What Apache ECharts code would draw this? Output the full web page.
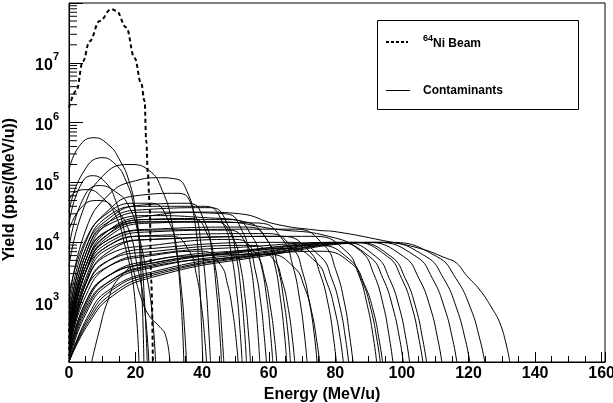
<!DOCTYPE html>
<html>
<head>
<meta charset="utf-8">
<script src="https://cdn.jsdelivr.net/npm/echarts@6/dist/echarts.min.js"></script>
<style>
  html, body { margin: 0; padding: 0; background: #fff; }
  #chart { width: 613px; height: 403px; }
</style>
</head>
<body>
<div id="chart"></div>
<script>
// 64Ni beam, [energy (MeV/u), yield]
const beam = [
  [0, 1.8e6], [2.2, 3.4e6], [4.2, 1.07e7], [6.2, 2.3e7], [9.2, 5e7], [12.7, 7.9e7],
  [14.2, 7.4e7], [17.2, 3.9e7], [19.7, 1.2e7], [21.7, 4.5e6], [22.7, 2.3e6],
  [23.2, 5e5], [23.7, 1.4e5], [24.2, 4.5e4], [24.7, 2.3e3], [25.2, 100]
];

// contaminant spectra, one list of [energy, yield] per fragment
const contaminants = [
  [[0, 1.6e5], [3, 4e5], [7.5, 5.6e5], [12, 4.2e5], [15, 2.5e5], [18, 1.07e5], [20, 3.2e4], [21.5, 4e3], [22.5, 100]],
  [[0, 3.2e4], [4, 1.4e5], [10, 2.6e5], [14, 2e5], [17, 1.1e5], [19.5, 4e4], [21.5, 7.9e3], [22.7, 1e3], [23.5, 100]],
  [[0, 4e3], [4, 3.2e4], [10, 1.26e5], [18, 2e5], [24, 1.6e5], [28, 7.4e4], [31, 2e4], [33, 3.2e3], [34.5, 100]],
  [[0, 2e4], [3, 7.9e4], [7, 1.3e5], [11, 1e5], [14, 5e4], [17, 1.26e4], [19.5, 3.2e3], [21.5, 1.26e3], [24, 600], [27, 400], [29, 280], [30.3, 100]],
  [[0, 5e4], [2, 7e4], [5.5, 7.6e4], [10, 5.6e4], [14, 2.8e4], [17, 7.9e3], [19.5, 1.6e3], [21, 100]],
  [[0, 1e3], [5, 1.6e4], [12, 6.3e4], [20, 1.07e5], [27, 1.2e5], [32, 1.15e5], [35.5, 7e4], [37.8, 2.2e4], [39.1, 3e3], [39.8, 400], [40.2, 100]],
  [[0, 7.9e3], [4, 5e4], [9, 8.9e4], [14, 7e4], [18, 4e4], [21, 1.26e4], [23.5, 2.5e3], [25, 630], [26, 100]],
  [[0, 1.6e4], [4, 4e4], [9, 5e4], [14, 3.5e4], [18, 1.6e4], [20.5, 4e3], [22.5, 1e3], [24, 100]],
  [[0, 1.26e3], [5, 1.1e4], [12, 3.2e4], [20, 4.5e4], [25, 4.5e4], [30.2, 2.1e4], [32.2, 7.2e3], [33.8, 1.55e3], [34.8, 300], [35.3, 100]],
  [[0, 800], [5, 1e4], [12, 3.5e4], [20, 6e4], [33, 6.6e4], [37.75, 3e4], [39.65, 9.3e3], [41.1, 1.9e3], [42, 320], [42.5, 100]],
  [[0, 250], [5, 3.2e3], [12, 8.9e3], [22, 1.26e4], [31, 1.26e4], [36.15, 7.1e3], [38.2, 3e3], [39.75, 890], [40.8, 240], [41.3, 100]],
  [[0, 500], [5, 7.9e3], [12, 2.5e4], [22, 4.2e4], [36, 4.5e4], [40.9, 2.1e4], [42.9, 7.2e3], [44.3, 1.55e3], [45.3, 300], [45.8, 100]],
  [[0, 320], [5, 4e3], [12, 1.4e4], [22, 2.4e4], [37, 2.5e4], [41.75, 1.3e4], [43.65, 4.8e3], [45.1, 1.2e3], [46, 270], [46.5, 100]],
  [[0, 160], [5, 1.6e3], [12, 4e3], [25, 6e3], [40, 7.1e3], [45.4, 4.3e3], [47.6, 2e3], [49.2, 680], [50.3, 210], [50.8, 100]],
  [[0, 630], [5, 7.9e3], [12, 2.8e4], [22, 4e4], [41, 4e4], [46.5, 1.95e4], [48.7, 6.6e3], [50.35, 1.5e3], [51.45, 300], [52, 100]],
  [[0, 320], [5, 5e3], [12, 2.2e4], [22, 3.5e4], [42.5, 3.8e4], [47.9, 1.86e4], [50.1, 6.5e3], [51.7, 1.45e3], [52.8, 290], [53.3, 100]],
  [[0, 200], [5, 3.2e3], [12, 1.26e4], [25, 2.1e4], [44, 2.2e4], [49.25, 1.17e4], [51.35, 4.5e3], [52.9, 1.15e3], [54, 260], [54.5, 100]],
  [[0, 400], [5, 6.3e3], [12, 2.2e4], [25, 3.2e4], [47, 3e4], [52.15, 1.5e4], [54.2, 5.4e3], [55.75, 1.3e3], [56.8, 280], [57.3, 100]],
  [[0, 250], [5, 3.2e3], [12, 1e4], [25, 1.5e4], [48, 1.6e4], [53.65, 8.7e3], [55.9, 3.5e3], [57.6, 980], [58.7, 250], [59.3, 100]],
  [[0, 320], [5, 5e3], [12, 1.6e4], [25, 2.4e4], [49, 2.4e4], [55.1, 1.23e4], [57.5, 4.7e3], [59.4, 1.17e3], [60.6, 270], [61.2, 100]],
  [[0, 160], [5, 2e3], [12, 6.3e3], [25, 8.9e3], [50, 1.12e4], [56.2, 6.3e3], [58.7, 2.7e3], [60.5, 830], [61.8, 230], [62.4, 100]],
  [[0, 400], [5, 6.3e3], [12, 2e4], [25, 2.8e4], [40, 2.6e4], [53, 2.2e4], [59.2, 1.17e4], [61.7, 4.5e3], [63.5, 1.15e3], [64.8, 260], [65.4, 100]],
  [[0, 200], [5, 3.2e3], [12, 1.12e4], [25, 1.66e4], [54, 1.8e4], [60.25, 9.5e3], [62.75, 3.8e3], [64.6, 1e3], [65.9, 260], [66.5, 100]],
  [[0, 126], [5, 1.6e3], [12, 5e3], [25, 7e3], [55, 8.9e3], [61.4, 5.2e3], [64, 2.3e3], [65.9, 760], [67.2, 220], [67.8, 100]],
  [[0, 320], [5, 5e3], [12, 1.6e4], [25, 2.2e4], [57, 2.1e4], [64.25, 1.1e4], [67.15, 4.2e3], [69.3, 1.1e3], [70.8, 260], [71.5, 100]],
  [[0, 200], [5, 2.5e3], [12, 8.9e3], [25, 1.3e4], [60, 1.4e4], [67.25, 7.8e3], [70.15, 3.2e3], [72.3, 930], [73.8, 250], [74.5, 100]],
  [[6.8, 100], [9, 320], [11.5, 1e3], [15, 2.5e3], [22, 4.5e3], [40, 6e3], [60, 6.3e3], [67.65, 3.8e3], [70.7, 1.8e3], [73, 650], [74.5, 210], [75.3, 100]],
  [[0, 160], [5, 2e3], [12, 7e3], [25, 1.12e4], [64, 1.26e4], [72.15, 7.1e3], [75.4, 3e3], [77.9, 890], [79.5, 240], [80.3, 100]],
  [[0, 126], [5, 1e3], [12, 2.8e3], [25, 4.5e3], [45, 6.3e3], [66, 7.9e3], [74.2, 4.7e3], [77.5, 2.1e3], [79.9, 720], [81.6, 220], [82.4, 100]],
  [[0, 160], [5, 1.6e3], [12, 5e3], [25, 7.9e3], [67, 1e4], [75.5, 5.8e3], [78.9, 2.5e3], [81.45, 800], [83.15, 230], [84, 100]],
  [[0, 250], [5, 3.2e3], [12, 1.12e4], [25, 1.6e4], [68, 1.66e4], [76.65, 8.9e3], [80.1, 3.5e3], [82.7, 1e3], [84.4, 250], [85.3, 100]],
  [[0, 200], [5, 2.2e3], [12, 7.9e3], [25, 1.12e4], [74, 1.26e4], [83.2, 7.1e3], [86.9, 3e3], [89.6, 890], [91.5, 240], [92.4, 100]],
  [[0, 126], [5, 1e3], [12, 2.8e3], [25, 4.5e3], [50, 7e3], [75, 8.9e3], [84.25, 5.2e3], [88, 2.3e3], [90.7, 760], [92.6, 220], [93.5, 100]],
  [[0, 112], [5, 800], [12, 2.2e3], [25, 4e3], [50, 5.6e3], [76, 7.1e3], [85.1, 4.3e3], [88.7, 2e3], [91.5, 680], [93.3, 210], [94.2, 100]],
  [[0, 320], [5, 4e3], [12, 1.4e4], [25, 2.2e4], [45, 2.2e4], [62, 1.66e4], [78, 1.26e4], [87.65, 7.1e3], [91.5, 3e3], [94.4, 890], [96.3, 240], [97.3, 100]],
  [[0, 160], [5, 1.26e3], [12, 4e3], [25, 6.3e3], [55, 8.5e3], [80, 1e4], [90.2, 5.8e3], [94.3, 2.5e3], [97.3, 800], [99.4, 230], [100.4, 100]],
  [[0, 126], [5, 890], [12, 2.8e3], [25, 5e3], [55, 7.6e3], [82, 1e4], [92.15, 5.8e3], [96.2, 2.5e3], [99.25, 800], [101.3, 230], [102.3, 100]],
  [[0, 112], [5, 710], [12, 2.2e3], [25, 4.2e3], [55, 7.1e3], [85, 1e4], [95.65, 5.8e3], [99.9, 2.5e3], [103.1, 800], [105.2, 230], [106.3, 100]],
  [[0, 100], [5, 630], [12, 2e3], [25, 3.8e3], [55, 6.6e3], [86, 1e4], [96.7, 5.8e3], [101, 2.5e3], [104.2, 800], [106.3, 230], [107.4, 100]],
  [[0, 100], [6, 630], [12, 1.6e3], [25, 3.2e3], [55, 6.3e3], [89, 1e4], [100.5, 5.8e3], [105.1, 2.5e3], [108.55, 800], [110.85, 230], [112, 100]],
  [[0, 100], [6, 560], [13, 1.6e3], [25, 3e3], [55, 6e3], [92, 1e4], [104.25, 5.8e3], [109.15, 2.5e3], [112.8, 800], [115.3, 230], [116.5, 100]],
  [[0, 100], [6, 500], [13, 1.4e3], [25, 2.8e3], [55, 5.8e3], [94, 1e4], [107.2, 5.8e3], [112.5, 2.5e3], [116.4, 800], [119.1, 230], [120.4, 100]],
  [[0, 100], [6, 450], [13, 1.26e3], [25, 2.6e3], [55, 5.5e3], [96, 1e4], [110.45, 5.8e3], [116.2, 2.5e3], [120.6, 800], [123.5, 230], [124.9, 100]],
  [[0, 320], [5, 4e3], [12, 1.6e4], [25, 2.8e4], [40, 3.2e4], [51.3, 3e4], [62.3, 2e4], [74.3, 1.6e4], [80.3, 1.5e4], [94.4, 1.07e4], [105.4, 7.9e3], [113.4, 5.4e3], [116.4, 4.5e3], [119.4, 2.8e3], [123.4, 1.6e3], [127, 800], [129.4, 450], [131.3, 200], [132.4, 100]]
];

const yDecades = [3, 4, 5, 6, 7];
const xLabels = [0, 20, 40, 60, 80, 100, 120, 140, 160];

const font = "'Liberation Sans', Arial, sans-serif";

// log minor ticks 2..9 per decade on the y axis
const minorTicks = [];
for (let n = 2; n <= 7; n++) {
  for (let k = 2; k <= 9; k++) minorTicks.push([0, k * Math.pow(10, n)]);
}

const series = contaminants.map((pts) => ({
  type: "line",
  data: pts,
  symbol: "none",
  smooth: 0.5,
  silent: true,
  lineStyle: { color: "#000", width: 1 },
  z: 2,
}));

series.push({
  type: "line",
  data: beam,
  symbol: "none",
  smooth: 0.4,
  smoothMonotone: "x",
  silent: true,
  lineStyle: { color: "#000", width: 2, type: [4, 3] },
  z: 3,
});

series.push({
  type: "custom",
  data: minorTicks,
  silent: true,
  z: 4,
  renderItem: (params, api) => {
    const p = api.coord([0, api.value(1)]);
    return {
      type: "line",
      shape: { x1: p[0], y1: p[1], x2: p[0] + 8, y2: p[1] },
      style: { stroke: "#000", lineWidth: 1 },
    };
  },
});

const option = {
  animation: false,
  backgroundColor: "#fff",
  grid: {
    left: 69, right: 8, top: 3, bottom: 41,
    show: true, borderColor: "#000", borderWidth: 1,
    outerBoundsMode: "none",
  },
  xAxis: {
    type: "value",
    min: 0, max: 161, interval: 20,
    name: "Energy (MeV/u)",
    nameLocation: "middle",
    nameGap: 25,
    nameTextStyle: { fontFamily: font, fontWeight: "bold", fontSize: 16, color: "#000", padding: [0, 30, 0, 0] },
    axisLine: { lineStyle: { color: "#000", width: 1 } },
    axisTick: { inside: true, length: 10, lineStyle: { color: "#000" } },
    minorTick: { show: true, splitNumber: 4, length: 6, lineStyle: { color: "#000" } },
    splitLine: { show: false },
    axisLabel: {
      fontFamily: font, fontWeight: "bold", fontSize: 16, color: "#000", margin: 4,
      formatter: (v) => (xLabels.includes(v) ? String(v) : ""),
    },
  },
  yAxis: {
    type: "log",
    logBase: 10,
    min: 100, max: 1e8,
    name: "Yield (pps/(MeV/u))",
    nameLocation: "middle",
    nameGap: 51,
    nameTextStyle: { fontFamily: font, fontWeight: "bold", fontSize: 16, color: "#000", padding: [0, 14, 0, 0] },
    axisLine: { lineStyle: { color: "#000", width: 1 } },
    axisTick: { inside: true, length: 14, lineStyle: { color: "#000" } },
    splitLine: { show: false },
    axisLabel: {
      margin: 10,
      formatter: (v) => {
        const n = Math.round(Math.log10(v));
        return yDecades.includes(n) ? "{b|10}{s|" + n + "}" : "";
      },
      rich: {
        b: { fontFamily: font, fontWeight: "bold", fontSize: 16, color: "#000", lineHeight: 22, verticalAlign: "bottom" },
        s: { fontFamily: font, fontWeight: "bold", fontSize: 11, color: "#000", verticalAlign: "top", lineHeight: 22 },
      },
    },
  },
  graphic: [
    {
      type: "rect", z: 100,
      shape: { x: 377.5, y: 20.5, width: 201, height: 89 },
      style: { fill: "#fff", stroke: "#000", lineWidth: 1 },
    },
    {
      type: "line", z: 101,
      shape: { x1: 386, y1: 42, x2: 408, y2: 42 },
      style: { stroke: "#000", lineWidth: 2, lineDash: [3, 2] },
    },
    {
      type: "text", z: 101, x: 423, y: 42,
      style: {
        text: "{s|64}{b|Ni Beam}",
        verticalAlign: "middle",
        rich: {
          b: { fontFamily: font, fontWeight: "bold", fontSize: 12, fill: "#000", lineHeight: 16, verticalAlign: "bottom" },
          s: { fontFamily: font, fontWeight: "bold", fontSize: 9, fill: "#000", lineHeight: 16, verticalAlign: "top" },
        },
      },
    },
    {
      type: "line", z: 101,
      shape: { x1: 386, y1: 90.5, x2: 410, y2: 90.5 },
      style: { stroke: "#000", lineWidth: 1 },
    },
    {
      type: "text", z: 101, x: 423, y: 91,
      style: {
        text: "Contaminants",
        verticalAlign: "middle",
        font: "bold 12px " + font,
        fill: "#000",
      },
    },
  ],
  series: series,
};

const chart = echarts.init(document.getElementById("chart"));
chart.setOption(option);
</script>
</body>
</html>
